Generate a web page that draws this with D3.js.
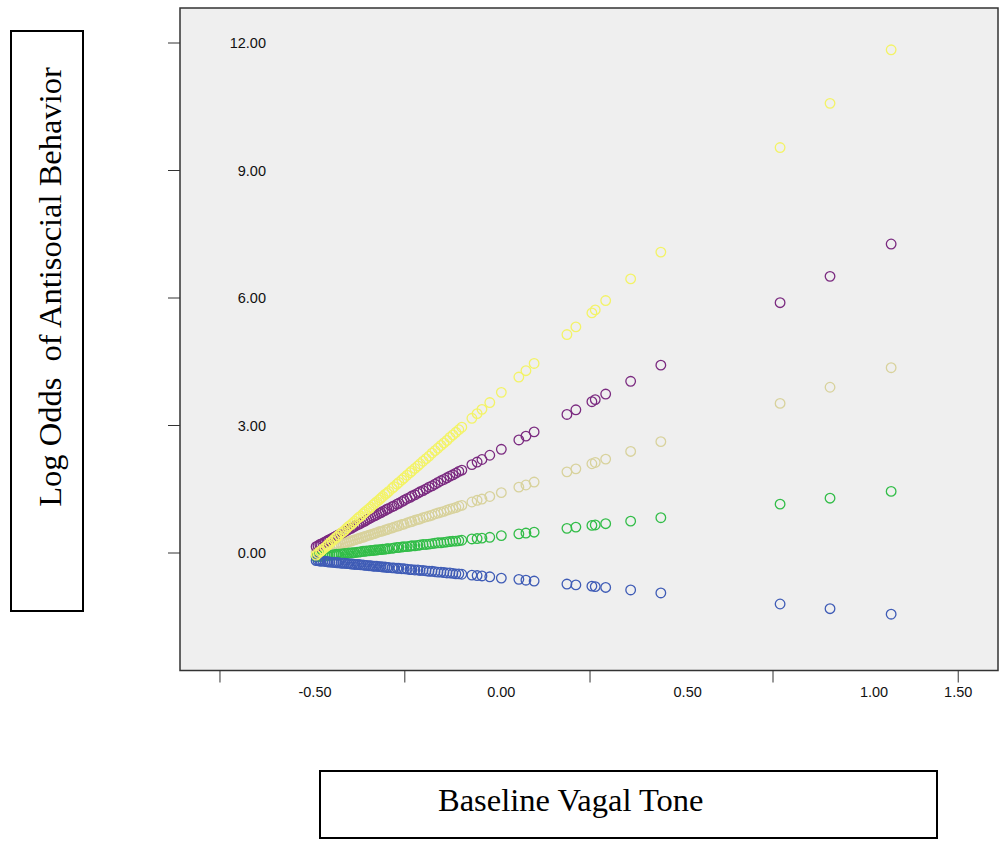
<!DOCTYPE html>
<html>
<head>
<meta charset="utf-8">
<script src="https://cdn.jsdelivr.net/npm/d3@7"></script>
<style>
    body { margin: 0; background: #fff; }
    svg { display: block; }
</style>
</head>
<body>
<div id="chart"></div>
<script>
// Baseline vagal tone (x), shared by every series
var vagalTone = [
    -0.497, -0.492, -0.487, -0.484, -0.479, -0.473, -0.468, -0.465, -0.460, -0.454,
    -0.449, -0.444, -0.441, -0.436, -0.430, -0.425, -0.420, -0.414, -0.409, -0.403,
    -0.398, -0.393, -0.387, -0.382, -0.377, -0.371, -0.366, -0.361, -0.355, -0.350,
    -0.344, -0.339, -0.334, -0.328, -0.323, -0.318, -0.312, -0.307, -0.302, -0.293,
    -0.288, -0.280, -0.275, -0.267, -0.261, -0.253, -0.245, -0.240, -0.232, -0.224,
    -0.218, -0.210, -0.202, -0.194, -0.186, -0.178, -0.170, -0.162, -0.154, -0.146,
    -0.138, -0.130, -0.122, -0.114, -0.106, -0.079, -0.065, -0.052, -0.031, 0.000,
    0.047, 0.066, 0.088, 0.176, 0.200, 0.243, 0.252, 0.280, 0.347, 0.428,
    0.748, 0.882, 1.046
];

// Log odds, one list per fanned line
var logOddsTan = [
    0.02, 0.03, 0.05, 0.06, 0.07, 0.09, 0.10, 0.11, 0.12, 0.14,
    0.15, 0.17, 0.18, 0.19, 0.21, 0.22, 0.24, 0.25, 0.27, 0.28,
    0.30, 0.31, 0.33, 0.34, 0.36, 0.37, 0.39, 0.40, 0.42, 0.43,
    0.45, 0.46, 0.48, 0.50, 0.51, 0.52, 0.54, 0.55, 0.57, 0.59,
    0.61, 0.63, 0.64, 0.67, 0.68, 0.71, 0.73, 0.74, 0.77, 0.79,
    0.80, 0.83, 0.85, 0.87, 0.89, 0.92, 0.94, 0.96, 0.98, 1.01,
    1.03, 1.05, 1.07, 1.10, 1.12, 1.20, 1.24, 1.27, 1.33, 1.42,
    1.55, 1.60, 1.67, 1.91, 1.98, 2.10, 2.13, 2.21, 2.39, 2.62,
    3.52, 3.90, 4.36
];

var logOddsGreen = [
    -0.09, -0.08, -0.08, -0.08, -0.07, -0.07, -0.06, -0.06, -0.05, -0.05,
    -0.04, -0.04, -0.03, -0.03, -0.02, -0.02, -0.01, -0.01, 0.00, 0.00,
    0.01, 0.01, 0.02, 0.02, 0.03, 0.04, 0.04, 0.05, 0.05, 0.06,
    0.06, 0.07, 0.07, 0.08, 0.08, 0.09, 0.09, 0.10, 0.10, 0.11,
    0.12, 0.13, 0.13, 0.14, 0.15, 0.15, 0.16, 0.17, 0.17, 0.18,
    0.19, 0.20, 0.20, 0.21, 0.22, 0.23, 0.24, 0.24, 0.25, 0.26,
    0.27, 0.28, 0.28, 0.29, 0.30, 0.33, 0.34, 0.35, 0.37, 0.41,
    0.45, 0.47, 0.49, 0.58, 0.61, 0.65, 0.66, 0.69, 0.75, 0.83,
    1.15, 1.29, 1.45
];

var logOddsBlue = [
    -0.18, -0.18, -0.19, -0.19, -0.19, -0.20, -0.20, -0.21, -0.21, -0.22,
    -0.22, -0.22, -0.23, -0.23, -0.24, -0.24, -0.24, -0.25, -0.25, -0.26,
    -0.26, -0.27, -0.27, -0.27, -0.28, -0.28, -0.29, -0.29, -0.30, -0.30,
    -0.31, -0.31, -0.31, -0.32, -0.32, -0.33, -0.33, -0.34, -0.34, -0.35,
    -0.35, -0.36, -0.36, -0.37, -0.37, -0.38, -0.39, -0.39, -0.40, -0.40,
    -0.41, -0.41, -0.42, -0.43, -0.43, -0.44, -0.45, -0.45, -0.46, -0.47,
    -0.47, -0.48, -0.49, -0.49, -0.50, -0.52, -0.53, -0.54, -0.56, -0.59,
    -0.62, -0.64, -0.66, -0.73, -0.75, -0.78, -0.79, -0.81, -0.87, -0.94,
    -1.20, -1.31, -1.44
];

var logOddsPurple = [
    0.15, 0.17, 0.20, 0.21, 0.23, 0.26, 0.28, 0.30, 0.32, 0.35,
    0.37, 0.39, 0.41, 0.43, 0.46, 0.48, 0.51, 0.53, 0.56, 0.58,
    0.61, 0.63, 0.66, 0.68, 0.70, 0.73, 0.75, 0.78, 0.81, 0.83,
    0.86, 0.88, 0.90, 0.93, 0.95, 0.98, 1.00, 1.03, 1.05, 1.09,
    1.11, 1.15, 1.17, 1.21, 1.24, 1.28, 1.31, 1.34, 1.37, 1.41,
    1.44, 1.47, 1.51, 1.55, 1.58, 1.62, 1.66, 1.70, 1.73, 1.77,
    1.81, 1.84, 1.88, 1.92, 1.95, 2.08, 2.14, 2.20, 2.30, 2.44,
    2.66, 2.75, 2.85, 3.26, 3.37, 3.56, 3.61, 3.74, 4.04, 4.42,
    5.89, 6.51, 7.27
];

var logOddsYellow = [
    -0.05, -0.01, 0.03, 0.05, 0.09, 0.13, 0.17, 0.20, 0.24, 0.28,
    0.32, 0.36, 0.38, 0.42, 0.47, 0.50, 0.54, 0.59, 0.63, 0.67,
    0.71, 0.75, 0.80, 0.84, 0.87, 0.92, 0.96, 1.00, 1.04, 1.08,
    1.13, 1.17, 1.21, 1.25, 1.29, 1.33, 1.38, 1.41, 1.45, 1.52,
    1.56, 1.62, 1.66, 1.72, 1.77, 1.83, 1.89, 1.93, 1.99, 2.05,
    2.10, 2.16, 2.22, 2.28, 2.35, 2.41, 2.47, 2.53, 2.59, 2.65,
    2.72, 2.78, 2.84, 2.90, 2.96, 3.17, 3.28, 3.38, 3.54, 3.78,
    4.14, 4.29, 4.46, 5.14, 5.32, 5.65, 5.72, 5.94, 6.45, 7.08,
    9.54, 10.58, 11.84
];

var seriesList = [ logOddsTan, logOddsGreen, logOddsBlue, logOddsPurple, logOddsYellow ];
var seriesColors = [ '#d8d29c', '#32bd48', '#3f5cb6', '#7b2b80', '#f3f367' ];

var yTicks = [ 0, 3, 6, 9, 12 ];
var xTickMarks = [ -0.755, -0.259, 0.238, 0.729, 1.226 ];
var xTickLabels = [ -0.5, 0, 0.5, 1.0, 1.5 ];

window.addEventListener( 'load', function(){

    var width = 1002,
        height = 846,
        frame = { left: 180, top: 8, right: 998, bottom: 670.5 };

    // SPSS prints a plain hyphen, not a minus sign
    var fmt = function( d ){
        return d3.format( '.2f' )( d ).replace( '\u2212', '-' );
    };

    var svg = d3.select( '#chart' )
        .append( 'svg' )
        .attr( 'width', width )
        .attr( 'height', height );

    var x = d3.scaleLinear().domain( [ -0.5, 1.0 ] ).range( [ 315, 874 ] ),
        y = d3.scaleLinear().domain( [ 0, 12 ] ).range( [ 553, 43 ] );

    // Plot area
    svg.append( 'rect' )
        .attr( 'x', frame.left )
        .attr( 'y', frame.top )
        .attr( 'width', frame.right - frame.left )
        .attr( 'height', frame.bottom - frame.top )
        .attr( 'fill', '#efefef' )
        .attr( 'stroke', '#333' )
        .attr( 'stroke-width', 1.5 );

    // Y ticks sit outside the frame, labels inside it
    svg.selectAll( '.ytick' )
        .data( yTicks )
        .enter()
        .append( 'line' )
        .attr( 'x1', frame.left - 12 )
        .attr( 'x2', frame.left )
        .attr( 'y1', d => y( d ) )
        .attr( 'y2', d => y( d ) )
        .attr( 'stroke', '#333' )
        .attr( 'stroke-width', 1 );

    svg.selectAll( '.ylabel' )
        .data( yTicks )
        .enter()
        .append( 'text' )
        .attr( 'x', 266 )
        .attr( 'y', d => y( d ) )
        .attr( 'dy', '0.35em' )
        .attr( 'text-anchor', 'end' )
        .style( 'font-family', '"Liberation Sans", Arial, sans-serif' )
        .style( 'font-size', '14.5px' )
        .attr( 'fill', '#111' )
        .text( fmt );

    // X ticks
    svg.selectAll( '.xtick' )
        .data( xTickMarks )
        .enter()
        .append( 'line' )
        .attr( 'x1', d => x( d ) )
        .attr( 'x2', d => x( d ) )
        .attr( 'y1', frame.bottom )
        .attr( 'y2', frame.bottom + 12 )
        .attr( 'stroke', '#333' )
        .attr( 'stroke-width', 1 );

    var lastTick = x( xTickMarks[ xTickMarks.length - 1 ] );
    svg.selectAll( '.xlabel' )
        .data( xTickLabels )
        .enter()
        .append( 'text' )
        .attr( 'x', d => Math.min( x( d ), lastTick ) )
        .attr( 'y', 692 )
        .attr( 'dy', '0.35em' )
        .attr( 'text-anchor', 'middle' )
        .style( 'font-family', '"Liberation Sans", Arial, sans-serif' )
        .style( 'font-size', '14.5px' )
        .attr( 'fill', '#111' )
        .text( fmt );

    // Points
    seriesList.forEach( ( values, i ) => {
        svg.append( 'g' )
            .selectAll( 'circle' )
            .data( values )
            .enter()
            .append( 'circle' )
            .attr( 'cx', ( d, j ) => x( vagalTone[ j ] ) )
            .attr( 'cy', d => y( d ) )
            .attr( 'r', 4.8 )
            .attr( 'fill', 'none' )
            .attr( 'stroke', seriesColors[ i ] )
            .attr( 'stroke-width', 1.3 );
    } );

    // Axis titles in boxes
    svg.append( 'rect' )
        .attr( 'x', 11 )
        .attr( 'y', 31 )
        .attr( 'width', 72 )
        .attr( 'height', 580 )
        .attr( 'fill', 'none' )
        .attr( 'stroke', '#000' )
        .attr( 'stroke-width', 2 );

    svg.append( 'text' )
        .attr( 'transform', 'translate(61,287) rotate(-90)' )
        .attr( 'text-anchor', 'middle' )
        .attr( 'xml:space', 'preserve' )
        .style( 'white-space', 'pre' )
        .style( 'font-family', '"Liberation Serif", "Times New Roman", serif' )
        .style( 'font-size', '32.5px' )
        .attr( 'fill', '#000' )
        .text( 'Log Odds  of Antisocial Behavior' );

    svg.append( 'rect' )
        .attr( 'x', 320 )
        .attr( 'y', 771 )
        .attr( 'width', 617 )
        .attr( 'height', 67 )
        .attr( 'fill', 'none' )
        .attr( 'stroke', '#000' )
        .attr( 'stroke-width', 2 );

    svg.append( 'text' )
        .attr( 'x', 438 )
        .attr( 'y', 811 )
        .style( 'font-family', '"Liberation Serif", "Times New Roman", serif' )
        .style( 'font-size', '32.5px' )
        .attr( 'fill', '#000' )
        .text( 'Baseline Vagal Tone' );
} );
</script>
</body>
</html>
